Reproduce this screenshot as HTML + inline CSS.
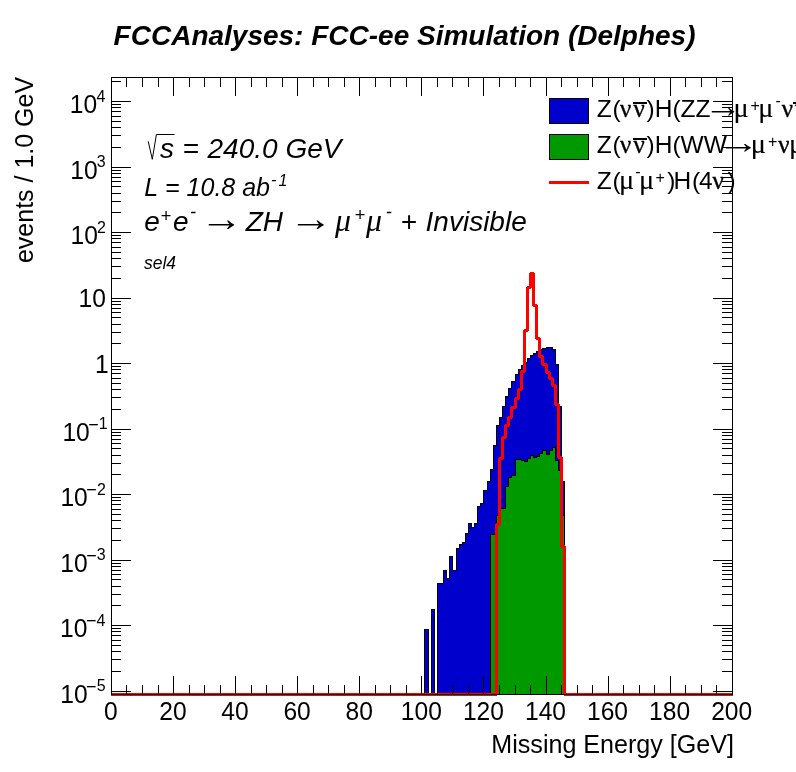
<!DOCTYPE html>
<html><head><meta charset="utf-8"><title>FCCAnalyses plot</title>
<style>
html,body{margin:0;padding:0;background:#fff;}
body{width:796px;height:772px;overflow:hidden;}
svg{display:block;font-family:"Liberation Sans",sans-serif;fill:#000;}
.ax text{font-size:24.6px;}
.ax text.ex{font-size:16px;}
.it{font-style:italic;}
.bi{font-style:italic;font-weight:bold;}
text{font-kerning:none;}
.sy{font-family:"Liberation Serif",serif;stroke:#000;stroke-width:0.35px;}
.sy.it{stroke:none;}
.sy.mu{stroke-width:0.12px;}
</style></head><body>
<svg width="796" height="772" viewBox="0 0 796 772">
<rect width="796" height="772" fill="#fff"/>
<g shape-rendering="crispEdges">
<path d="M424.5 694.5 L424.5 629.5 L428.5 629.5 L428.5 694.5 M431.5 694.5 L431.5 609.5 L434.5 609.5 L434.5 694.5 M437.5 694.5 L437.5 583.5 L440.5 583.5 L440.5 583.5 L443.5 583.5 L443.5 570.5 L446.5 570.5 L446.5 578.5 L449.5 578.5 L449.5 556.5 L452.5 556.5 L452.5 570.5 L456.5 570.5 L456.5 548.5 L459.5 548.5 L459.5 544.5 L462.5 544.5 L462.5 542.5 L465.5 542.5 L465.5 533.5 L468.5 533.5 L468.5 523.5 L471.5 523.5 L471.5 527.5 L474.5 527.5 L474.5 523.5 L477.5 523.5 L477.5 506.5 L480.5 506.5 L480.5 503.5 L483.5 503.5 L483.5 490.5 L487.5 490.5 L487.5 481.5 L490.5 481.5 L490.5 469.5 L493.5 469.5 L493.5 445.5 L496.5 445.5 L496.5 425.5 L499.5 425.5 L499.5 417.5 L502.5 417.5 L502.5 406.5 L505.5 406.5 L505.5 396.5 L508.5 396.5 L508.5 388.5 L511.5 388.5 L511.5 381.5 L515.5 381.5 L515.5 374.5 L518.5 374.5 L518.5 369.5 L521.5 369.5 L521.5 365.5 L524.5 365.5 L524.5 362.5 L527.5 362.5 L527.5 358.5 L530.5 358.5 L530.5 355.5 L533.5 355.5 L533.5 353.5 L536.5 353.5 L536.5 351.5 L539.5 351.5 L539.5 349.5 L542.5 349.5 L542.5 348.5 L546.5 348.5 L546.5 347.5 L549.5 347.5 L549.5 347.5 L552.5 347.5 L552.5 349.5 L555.5 349.5 L555.5 364.5 L558.5 364.5 L558.5 406.5 L561.5 406.5 L561.5 481.5 L564.5 481.5 L564.5 694.5 " fill="#0000cc" stroke="#000" stroke-width="1"/>
<path d="M490.5 694.5 L490.5 534.5 L493.5 534.5 L493.5 534.5 L496.5 534.5 L496.5 515.5 L499.5 515.5 L499.5 508.5 L502.5 508.5 L502.5 508.5 L505.5 508.5 L505.5 486.5 L508.5 486.5 L508.5 477.5 L511.5 477.5 L511.5 475.5 L515.5 475.5 L515.5 459.5 L518.5 459.5 L518.5 459.5 L521.5 459.5 L521.5 460.5 L524.5 460.5 L524.5 461.5 L527.5 461.5 L527.5 458.5 L530.5 458.5 L530.5 455.5 L533.5 455.5 L533.5 457.5 L536.5 457.5 L536.5 456.5 L539.5 456.5 L539.5 453.5 L542.5 453.5 L542.5 450.5 L546.5 450.5 L546.5 454.5 L549.5 454.5 L549.5 450.5 L552.5 450.5 L552.5 447.5 L555.5 447.5 L555.5 460.5 L558.5 460.5 L558.5 470.5 L561.5 470.5 L561.5 515.5 L564.5 515.5 L564.5 694.5 " fill="#009900" stroke="#000" stroke-width="1"/>
<path d="M111 694.5 L496.5 694.5 L496.5 524.5 L499.5 524.5 L499.5 458.5 L502.5 458.5 L502.5 437.5 L505.5 437.5 L505.5 425.5 L508.5 425.5 L508.5 417.5 L511.5 417.5 L511.5 407.5 L515.5 407.5 L515.5 398.5 L518.5 398.5 L518.5 389.5 L521.5 389.5 L521.5 371.5 L524.5 371.5 L524.5 330.5 L527.5 330.5 L527.5 287.5 L530.5 287.5 L530.5 273.5 L533.5 273.5 L533.5 305.5 L536.5 305.5 L536.5 338.5 L539.5 338.5 L539.5 356.5 L542.5 356.5 L542.5 364.5 L546.5 364.5 L546.5 372.5 L549.5 372.5 L549.5 378.5 L552.5 378.5 L552.5 385.5 L555.5 385.5 L555.5 404.5 L558.5 404.5 L558.5 457.5 L561.5 457.5 L561.5 546.5 L564.5 546.5 L564.5 694.5 L732.5 694.5" fill="none" stroke="#ff0000" stroke-width="3" stroke-linejoin="bevel"/>
<rect x="111.5" y="77.5" width="621.0" height="617.0" fill="none" stroke="#000" stroke-width="1"/>
<path d="M111.5 676V695 M111.5 77V96 M126.5 685V695 M126.5 77V87 M142.5 685V695 M142.5 77V87 M158.5 685V695 M158.5 77V87 M173.5 676V695 M173.5 77V96 M189.5 685V695 M189.5 77V87 M204.5 685V695 M204.5 77V87 M220.5 685V695 M220.5 77V87 M235.5 676V695 M235.5 77V96 M251.5 685V695 M251.5 77V87 M266.5 685V695 M266.5 77V87 M282.5 685V695 M282.5 77V87 M297.5 676V695 M297.5 77V96 M313.5 685V695 M313.5 77V87 M328.5 685V695 M328.5 77V87 M344.5 685V695 M344.5 77V87 M359.5 676V695 M359.5 77V96 M375.5 685V695 M375.5 77V87 M390.5 685V695 M390.5 77V87 M406.5 685V695 M406.5 77V87 M421.5 676V695 M421.5 77V96 M437.5 685V695 M437.5 77V87 M452.5 685V695 M452.5 77V87 M468.5 685V695 M468.5 77V87 M483.5 676V695 M483.5 77V96 M499.5 685V695 M499.5 77V87 M515.5 685V695 M515.5 77V87 M530.5 685V695 M530.5 77V87 M546.5 676V695 M546.5 77V96 M561.5 685V695 M561.5 77V87 M577.5 685V695 M577.5 77V87 M592.5 685V695 M592.5 77V87 M608.5 676V695 M608.5 77V96 M623.5 685V695 M623.5 77V87 M639.5 685V695 M639.5 77V87 M654.5 685V695 M654.5 77V87 M670.5 676V695 M670.5 77V96 M685.5 685V695 M685.5 77V87 M701.5 685V695 M701.5 77V87 M716.5 685V695 M716.5 77V87 M732.5 676V695 M732.5 77V96 M111 691.5H131 M713 691.5H733 M111 671.5H121 M722 671.5H733 M111 659.5H121 M722 659.5H733 M111 651.5H121 M722 651.5H733 M111 645.5H121 M722 645.5H733 M111 640.5H121 M722 640.5H733 M111 635.5H121 M722 635.5H733 M111 631.5H121 M722 631.5H733 M111 628.5H121 M722 628.5H733 M111 625.5H131 M713 625.5H733 M111 605.5H121 M722 605.5H733 M111 594.5H121 M722 594.5H733 M111 586.5H121 M722 586.5H733 M111 579.5H121 M722 579.5H733 M111 574.5H121 M722 574.5H733 M111 570.5H121 M722 570.5H733 M111 566.5H121 M722 566.5H733 M111 563.5H121 M722 563.5H733 M111 560.5H131 M713 560.5H733 M111 540.5H121 M722 540.5H733 M111 528.5H121 M722 528.5H733 M111 520.5H121 M722 520.5H733 M111 514.5H121 M722 514.5H733 M111 509.5H121 M722 509.5H733 M111 504.5H121 M722 504.5H733 M111 500.5H121 M722 500.5H733 M111 497.5H121 M722 497.5H733 M111 494.5H131 M713 494.5H733 M111 474.5H121 M722 474.5H733 M111 463.5H121 M722 463.5H733 M111 455.5H121 M722 455.5H733 M111 448.5H121 M722 448.5H733 M111 443.5H121 M722 443.5H733 M111 439.5H121 M722 439.5H733 M111 435.5H121 M722 435.5H733 M111 432.5H121 M722 432.5H733 M111 429.5H131 M713 429.5H733 M111 409.5H121 M722 409.5H733 M111 397.5H121 M722 397.5H733 M111 389.5H121 M722 389.5H733 M111 383.5H121 M722 383.5H733 M111 378.5H121 M722 378.5H733 M111 373.5H121 M722 373.5H733 M111 369.5H121 M722 369.5H733 M111 366.5H121 M722 366.5H733 M111 363.5H131 M713 363.5H733 M111 343.5H121 M722 343.5H733 M111 332.5H121 M722 332.5H733 M111 324.5H121 M722 324.5H733 M111 317.5H121 M722 317.5H733 M111 312.5H121 M722 312.5H733 M111 308.5H121 M722 308.5H733 M111 304.5H121 M722 304.5H733 M111 301.5H121 M722 301.5H733 M111 298.5H131 M713 298.5H733 M111 278.5H121 M722 278.5H733 M111 266.5H121 M722 266.5H733 M111 258.5H121 M722 258.5H733 M111 252.5H121 M722 252.5H733 M111 247.5H121 M722 247.5H733 M111 242.5H121 M722 242.5H733 M111 238.5H121 M722 238.5H733 M111 235.5H121 M722 235.5H733 M111 232.5H131 M713 232.5H733 M111 212.5H121 M722 212.5H733 M111 201.5H121 M722 201.5H733 M111 193.5H121 M722 193.5H733 M111 186.5H121 M722 186.5H733 M111 181.5H121 M722 181.5H733 M111 177.5H121 M722 177.5H733 M111 173.5H121 M722 173.5H733 M111 170.5H121 M722 170.5H733 M111 167.5H131 M713 167.5H733 M111 147.5H121 M722 147.5H733 M111 135.5H121 M722 135.5H733 M111 127.5H121 M722 127.5H733 M111 121.5H121 M722 121.5H733 M111 116.5H121 M722 116.5H733 M111 111.5H121 M722 111.5H733 M111 107.5H121 M722 107.5H733 M111 104.5H121 M722 104.5H733 M111 101.5H131 M713 101.5H733 M111 81.5H121 M722 81.5H733 " stroke="#000" stroke-width="1" fill="none"/>
<rect x="549.5" y="98.5" width="39" height="25" fill="#0000cc" stroke="#000"/>
<rect x="549.5" y="134.5" width="39" height="25" fill="#009900" stroke="#000"/>
<path d="M549 182.5H589" stroke="#ff0000" stroke-width="3"/>
</g>
<g class="ax"><g transform="scale(1 1.06)"><text x="110.8" y="679.62" text-anchor="middle">0</text><text x="172.9" y="679.62" text-anchor="middle">20</text><text x="235.0" y="679.62" text-anchor="middle">40</text><text x="297.1" y="679.62" text-anchor="middle">60</text><text x="359.2" y="679.62" text-anchor="middle">80</text><text x="421.3" y="679.62" text-anchor="middle">100</text><text x="483.4" y="679.62" text-anchor="middle">120</text><text x="545.5" y="679.62" text-anchor="middle">140</text><text x="607.5" y="679.62" text-anchor="middle">160</text><text x="669.6" y="679.62" text-anchor="middle">180</text><text x="731.7" y="679.62" text-anchor="middle">200</text><text x="60.30" y="663.02">10</text><text class="ex" x="96.77" y="652.26">5</text><text x="86.11" y="653.58" style="font-size:18.0px">−</text><text x="60.10" y="601.23">10</text><text class="ex" x="96.57" y="590.47">4</text><text x="85.91" y="591.79" style="font-size:18.0px">−</text><text x="60.33" y="539.43">10</text><text class="ex" x="96.80" y="528.68">3</text><text x="86.14" y="530.00" style="font-size:18.0px">−</text><text x="60.43" y="477.64">10</text><text class="ex" x="96.91" y="466.89">2</text><text x="86.25" y="468.21" style="font-size:18.0px">−</text><text x="62.41" y="415.85">10</text><text class="ex" x="98.88" y="405.09">1</text><text x="88.22" y="406.42" style="font-size:18.0px">−</text><text x="94.92" y="351.60">1</text><text x="78.50" y="289.81">10</text><text x="70.51" y="230.47">10</text><text class="ex" x="96.91" y="219.72">2</text><text x="70.21" y="168.68">10</text><text class="ex" x="96.80" y="157.92">3</text><text x="69.74" y="106.89">10</text><text class="ex" x="96.57" y="96.13">4</text></g>
<text id="xt" x="734.0" y="753.3" text-anchor="end" style="font-size:25.1px">Missing Energy [GeV]</text>
<text id="yt" transform="translate(33.4 76.9) rotate(-90) scale(1 1.06)" text-anchor="end" style="font-size:25px">events / 1.0 GeV</text>
</g>
<text class="bi" x="113.61" y="45.40" font-size="28px">FCCAnalyses: FCC-ee Simulation (Delphes)</text>
<text class="it" x="159.93" y="157.90" font-size="28px">s</text>
<text class="it" x="182.62" y="157.90" font-size="28px">=</text>
<text class="it" x="207.56" y="157.90" font-size="28px">240.0 GeV</text>
<text class="it" x="144.23" y="196.00" font-size="25px">L = 10.8 ab</text>
<text class="it" x="270.88" y="185.40" font-size="16px">-</text>
<text class="it" x="278.59" y="185.80" font-size="16px">1</text>
<text class="it" x="144.36" y="230.60" font-size="28px">e</text>
<text class="it" x="160.54" y="222.40" font-size="18.2px">+</text>
<text class="it" x="172.96" y="230.60" font-size="28px">e</text>
<text class="it" x="189.97" y="217.60" font-size="18.2px">-</text>
<text transform="translate(200.04 230.60) scale(1.179 1)" font-size="36.4px">→</text>
<text class="it" x="245.65" y="230.60" font-size="28px">ZH</text>
<text transform="translate(288.90 230.60) scale(1.198 1)" font-size="36.4px">→</text>
<text class="sy it" x="334.93" y="230.60" font-size="31.92px">μ</text>
<text class="it" x="354.54" y="220.60" font-size="18.2px">+</text>
<text class="sy it" x="366.03" y="230.60" font-size="31.92px">μ</text>
<text class="it" x="385.87" y="217.60" font-size="18.2px">-</text>
<text class="it" x="400.52" y="230.60" font-size="28px">+</text>
<text class="it" x="425.59" y="230.60" font-size="28px">Invisible</text>
<text class="it" x="143.96" y="268.60" font-size="17.5px">sel4</text>
<text class="" x="596.82" y="116.90" font-size="24.5px">Z</text>
<text class="" x="612.58" y="116.90" font-size="24.5px">(</text>
<text class="sy" x="620.04" y="116.90" font-size="24.9px">ν</text>
<text class="sy" x="633.44" y="116.90" font-size="24.9px">ν</text>
<text class="" x="646.56" y="116.90" font-size="24.5px">)H(ZZ</text>
<text transform="translate(704.21 116.90) scale(1.199 1)" font-size="31.85px">→</text>
<text class="sy mu" x="733.61" y="116.90" font-size="28.3px">μ</text>
<text class="" x="750.52" y="110.70" font-size="16px">+</text>
<text class="sy mu" x="758.31" y="116.90" font-size="28.3px">μ</text>
<text class="" x="775.59" y="105.60" font-size="16px">-</text>
<text class="sy" x="781.84" y="116.90" font-size="24.9px">ν</text>
<text class="sy" x="794.94" y="116.90" font-size="24.9px">ν</text>
<text class="" x="596.82" y="152.80" font-size="24.5px">Z</text>
<text class="" x="612.58" y="152.80" font-size="24.5px">(</text>
<text class="sy" x="620.04" y="152.80" font-size="24.9px">ν</text>
<text class="sy" x="633.44" y="152.80" font-size="24.9px">ν</text>
<text class="" x="646.56" y="152.80" font-size="24.5px">)H(WW</text>
<text transform="translate(717.44 152.80) scale(1.332 1)" font-size="31.85px">→</text>
<text class="sy mu" x="750.81" y="152.80" font-size="28.3px">μ</text>
<text class="" x="768.12" y="146.60" font-size="16px">+</text>
<text class="sy" x="778.34" y="152.80" font-size="24.9px">ν</text>
<text class="sy mu" x="788.91" y="152.80" font-size="28.3px">μ</text>
<text class="" x="596.82" y="188.70" font-size="24.5px">Z</text>
<text class="" x="612.58" y="188.70" font-size="24.5px">(</text>
<text class="sy mu" x="619.01" y="188.70" font-size="28.3px">μ</text>
<text class="" x="635.29" y="177.40" font-size="16px">-</text>
<text class="sy mu" x="639.01" y="188.70" font-size="28.3px">μ</text>
<text class="" x="655.52" y="182.50" font-size="16px">+</text>
<text class="" x="667.26" y="188.70" font-size="24.5px">)</text>
<text class="" x="673.39" y="188.70" font-size="24.5px">H</text>
<text class="" x="691.98" y="188.70" font-size="24.5px">(</text>
<text class="" x="698.94" y="188.70" font-size="24.5px">4</text>
<text class="sy" x="712.54" y="188.70" font-size="24.9px">ν</text>
<text class="" x="727.56" y="188.70" font-size="24.5px">)</text>
<path d="M633 103H647 M633 139H647 M793 103H797" stroke="#000" stroke-width="2" fill="none" shape-rendering="crispEdges"/>
<path d="M148.2 141.3 L152.3 159.3 L156.4 134.5 H174.5" fill="none" stroke="#000" stroke-width="1"/>
</svg>
</body></html>
